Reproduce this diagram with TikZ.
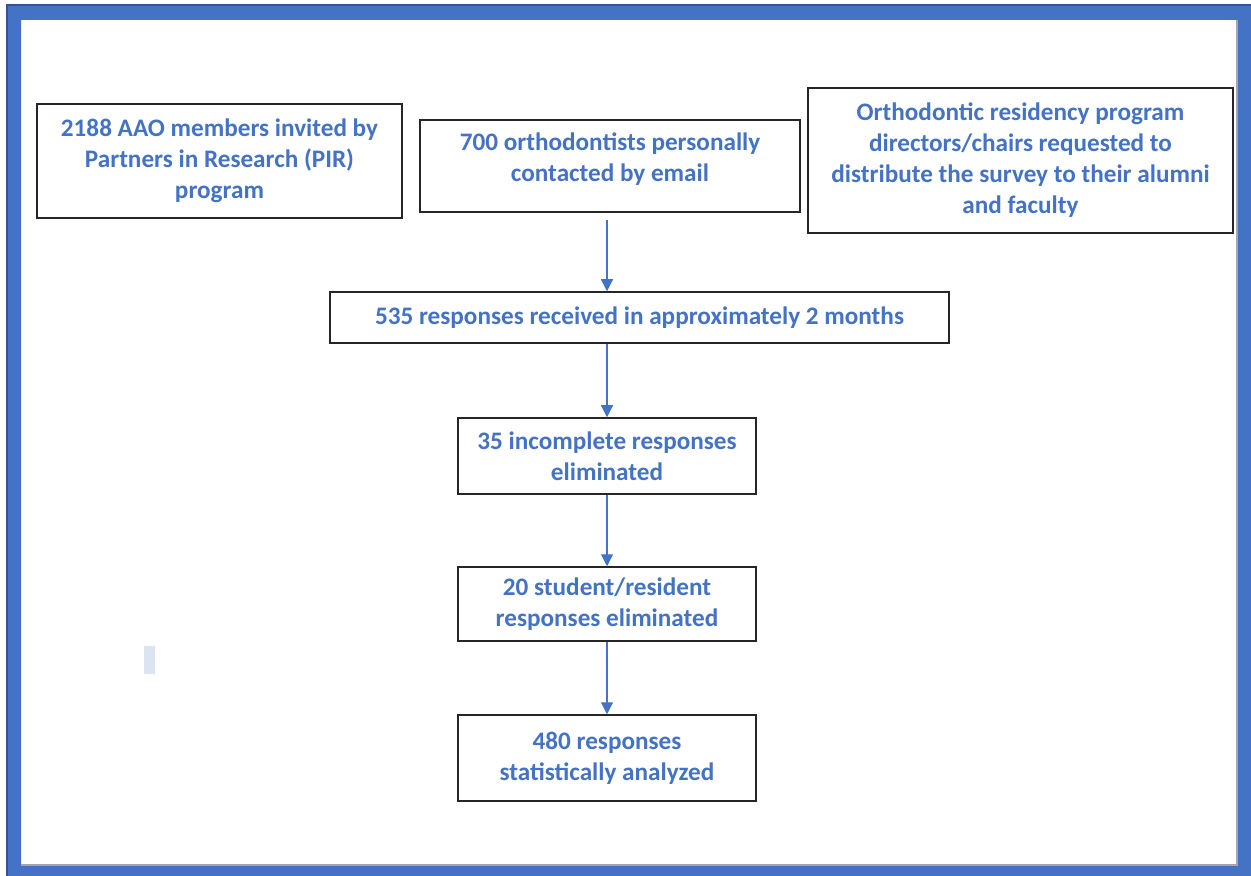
\documentclass[tikz,border=0pt]{standalone}
\usepackage{fontspec}
\setmainfont{Carlito}
\usetikzlibrary{arrows.meta}
\definecolor{wordblue}{HTML}{4472C4}
\definecolor{framedark}{HTML}{2F5597}
\definecolor{paleblue}{HTML}{DCE4F2}

\begin{document}
\begin{tikzpicture}[x=0.5pt, y=-0.5pt,
  box/.style={draw=black!85, line width=0.75pt, text=wordblue, align=center, inner sep=0pt,
    font=\bfseries\fontsize{12.6}{15.5}\selectfont},
  arrow/.style={draw=wordblue, line width=0.6pt, -{Triangle[width=6pt,length=6pt]}}]
  \useasboundingbox (0,0) rectangle (1251,876);
  \clip (0,0) rectangle (1251,876);
  \fill[white] (0,0) rectangle (1251,876);
  \fill[wordblue, even odd rule] (7,5) rectangle (1260,885) (21,20) rectangle (1237,865);
  \draw[framedark, line width=1pt] (7,885) -- (7,5) -- (1260,5);
  \draw[black!35, line width=0.75pt] (21,865) -- (1237,865) -- (1237,20);
  \fill[paleblue] (144,646) rectangle (155,674);
  \node[box, minimum width=182.5pt, minimum height=57pt] (1) at (219.5,161)
    {2188 AAO members invited by\\Partners in Research (PIR)\\program};
  \node[box, minimum width=190pt, minimum height=46pt, text depth=8.5pt] (2) at (610,166)
    {700 orthodontists personally\\contacted by email};
  \node[box, minimum width=212.5pt, minimum height=72.5pt] (3) at (1020.5,160.5)
    {Orthodontic residency program\\directors/chairs requested to\\distribute the survey to their alumni\\and faculty};
  \node[box, minimum width=309.5pt, minimum height=25.5pt] (4) at (639.5,317.5)
    {535 responses received in approximately 2 months};
  \node[box, minimum width=149pt, minimum height=38pt] (5) at (607,456)
    {35 incomplete responses\\eliminated};
  \node[box, minimum width=149pt, minimum height=37pt] (6) at (607,604)
    {20 student/resident\\responses eliminated};
  \node[box, minimum width=149pt, minimum height=43pt] (7) at (607,758)
    {480 responses\\statistically analyzed};
  % Draw the arrows
  \draw[arrow, shorten <=3.5pt] (2.south -| 5.north) -- (4.north -| 5.north);
  \draw[arrow] (4.south -| 5.north) -- (5.north);
  \draw[arrow] (5) -- (6);
  \draw[arrow] (6) -- (7);
\end{tikzpicture}
\end{document}
